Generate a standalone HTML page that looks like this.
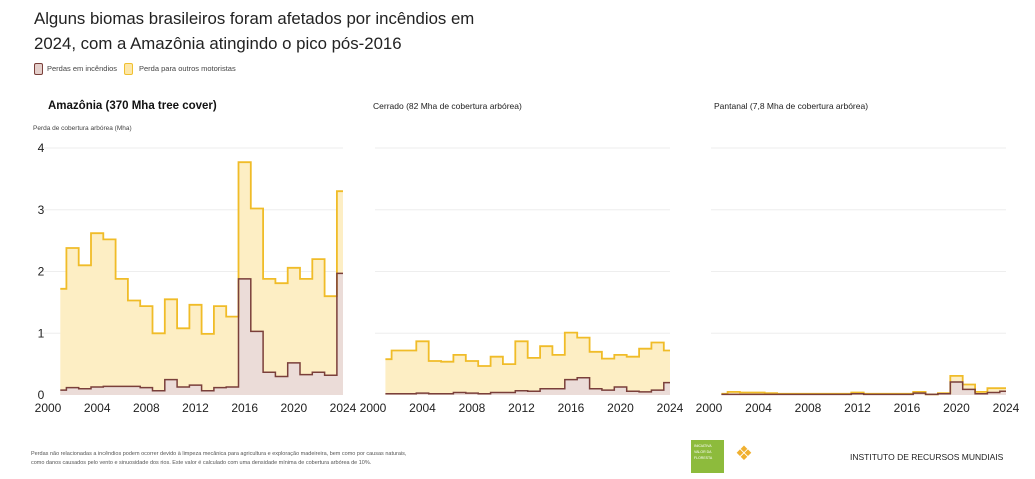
<!DOCTYPE html>
<html><head><meta charset="utf-8">
<style>
body{margin:0;width:1035px;height:479px;background:#fff;font-family:"Liberation Sans",sans-serif;overflow:hidden;position:relative}
.t{position:absolute;white-space:nowrap}
</style></head>
<body>
<div class="t" style="left:34px;top:6px;font-size:16.8px;line-height:25px;color:#222">Alguns biomas brasileiros foram afetados por incêndios em<br>2024, com a Amazônia atingindo o pico pós-2016</div>
<div class="t" style="left:34px;top:63px;font-size:7.5px;color:#444"><span style="display:inline-block;width:7px;height:10px;background:#e4cfcb;border:1px solid #7a3f3a;border-radius:2px;vertical-align:middle;margin-right:4px"></span>Perdas em incêndios</div>
<div class="t" style="left:124px;top:63px;font-size:7.5px;color:#444"><span style="display:inline-block;width:7px;height:10px;background:#fde7a8;border:1px solid #f0c030;border-radius:2px;vertical-align:middle;margin-right:6px"></span>Perda para outros motoristas</div>
<div class="t" style="left:48px;top:100px;font-size:11.5px;font-weight:bold;color:#111">Amazônia (370 Mha tree cover)</div>
<div class="t" style="left:373px;top:101px;font-size:8.5px;color:#222">Cerrado (82 Mha de cobertura arbórea)</div>
<div class="t" style="left:714px;top:101px;font-size:8.5px;color:#222">Pantanal (7,8 Mha de cobertura arbórea)</div>
<div class="t" style="left:33px;top:125px;font-size:6.5px;color:#444">Perda de cobertura arbórea (Mha)</div>
<svg id="c" width="1035" height="479" style="position:absolute;left:0;top:0"></svg>
<div class="t" style="left:31px;top:450px;font-size:5.5px;line-height:9px;color:#555">Perdas não relacionadas a incêndios podem ocorrer devido à limpeza mecânica para agricultura e exploração madeireira, bem como por causas naturais,<br>como danos causados pelo vento e sinuosidade dos rios. Este valor é calculado com uma densidade mínima de cobertura arbórea de 10%.</div>
<div class="t" style="left:691px;top:440px;width:33px;height:33px;background:#8dbb3c;color:#fff;font-size:3.5px;line-height:6px;padding:3px;box-sizing:border-box">INICIATIVA<br>VALOR DA<br>FLORESTA</div>
<div class="t" style="left:735px;top:444px;width:20px;height:20px;color:#f0b030;font-size:20px;line-height:20px">❖</div>
<div class="t" style="left:850px;top:452px;font-size:8.5px;color:#222">INSTITUTO DE RECURSOS MUNDIAIS</div>
<script>
const years=[2001,2002,2003,2004,2005,2006,2007,2008,2009,2010,2011,2012,2013,2014,2015,2016,2017,2018,2019,2020,2021,2022,2023,2024];
const xTicks=[2000,2004,2008,2012,2016,2020,2024];
const yTicks=[0,1,2,3,4];
const amazonTotal=[1.72,2.38,2.1,2.62,2.52,1.88,1.53,1.44,1.0,1.55,1.08,1.46,0.99,1.44,1.27,3.77,3.02,1.88,1.81,2.06,1.88,2.2,1.6,3.3];
const amazonFire=[0.08,0.12,0.1,0.13,0.14,0.14,0.14,0.12,0.07,0.25,0.13,0.16,0.07,0.12,0.13,1.88,1.03,0.37,0.3,0.52,0.33,0.37,0.32,1.97];
const cerradoTotal=[0.58,0.72,0.72,0.87,0.55,0.54,0.65,0.55,0.47,0.62,0.5,0.87,0.6,0.79,0.65,1.01,0.93,0.7,0.59,0.65,0.62,0.75,0.85,0.72];
const cerradoFire=[0.02,0.02,0.02,0.03,0.02,0.02,0.04,0.03,0.02,0.04,0.04,0.07,0.06,0.1,0.1,0.25,0.28,0.1,0.08,0.13,0.06,0.05,0.08,0.2];
const pantanalTotal=[0.02,0.05,0.04,0.04,0.03,0.02,0.02,0.02,0.02,0.02,0.02,0.04,0.02,0.02,0.02,0.02,0.05,0.01,0.03,0.31,0.17,0.05,0.11,0.11];
const pantanalFire=[0.01,0.01,0.01,0.01,0.01,0.01,0.01,0.01,0.01,0.01,0.01,0.02,0.01,0.01,0.01,0.01,0.03,0.01,0.02,0.21,0.09,0.02,0.04,0.06];
const NS="http://www.w3.org/2000/svg",svg=document.getElementById('c');
function mk(t,a){const e=document.createElementNS(NS,t);for(const k in a)e.setAttribute(k,a[k]);svg.appendChild(e);return e;}
function panel(name,x0,x1,gx0,total,fire,showY){
  const X=y=>x0+(y-2000)*(x1-x0)/24, Y=v=>395-v*61.75;
  yTicks.forEach(v=>{if(v===0)return;const g=mk('line',{x1:gx0,x2:x1,y1:Y(v),y2:Y(v),stroke:'#eee','stroke-width':1});
    
    
    if(showY){const t=mk('text',{x:41,y:Y(v)+4,'text-anchor':'middle','font-size':12,fill:'#222'});t.textContent=v;
    
    }});
  if(showY){const t=mk('text',{x:41,y:399,'text-anchor':'middle','font-size':12,fill:'#222'});t.textContent=0;
    
    }
  function step(vals){let p=[];years.forEach((y,i)=>{const a=Math.max(2001,y-0.5),b=Math.min(2024,y+0.5);p.push([X(a),Y(vals[i])],[X(b),Y(vals[i])]);});return p;}
  const top=step(total),bot=step(fire);
  const pts=p=>p.map(q=>q[0].toFixed(1)+','+q[1].toFixed(1)).join(' ');
  const base=[[X(2024),395],[X(2001),395]];
  const a1=mk('polygon',{points:pts(top.concat(base)),fill:'#fdeec4'});
  
  
  const a2=mk('polygon',{points:pts(bot.concat(base)),fill:'#ebdcd8'});
  
  
  const l1=mk('polyline',{points:pts(top),fill:'none',stroke:'#f0bc28','stroke-width':1.8});
  
  
  const l2=mk('polyline',{points:pts(bot),fill:'none',stroke:'#7a3f3a','stroke-width':1.5});
  
  
  xTicks.forEach(y=>{const t=mk('text',{x:X(y),y:412,'text-anchor':'middle','font-size':12,fill:'#222'});t.textContent=y;
    
    });
}
panel('amazon',48,343,40,amazonTotal,amazonFire,true);
panel('cerrado',373,670,375,cerradoTotal,cerradoFire,false);
panel('pantanal',709,1006,711,pantanalTotal,pantanalFire,false);
</script>
</body></html>
